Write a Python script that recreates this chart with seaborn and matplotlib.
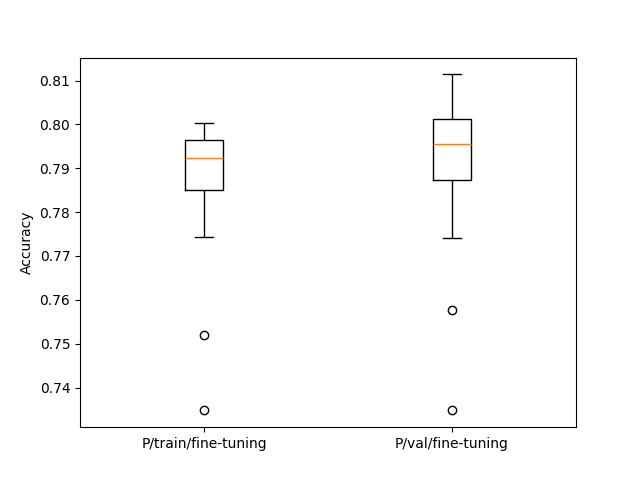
import pandas as pd
import matplotlib
matplotlib.use("Agg")
import matplotlib.pyplot as plt
import seaborn as sns

# accuracy per run
train_acc = [0.7348, 0.7521, 0.7744, 0.7851, 0.7880, 0.7905, 0.7924,
             0.7935, 0.7950, 0.7965, 0.7980, 0.7992, 0.8004]
val_acc = [0.7350, 0.7578, 0.7740, 0.7874, 0.7900, 0.7930, 0.7956,
           0.7970, 0.7990, 0.8013, 0.8040, 0.8080, 0.8114]
labels = ["P/train/fine-tuning", "P/val/fine-tuning"]

df = pd.DataFrame({
    "setting": [labels[0]] * len(train_acc) + [labels[1]] * len(val_acc),
    "Accuracy": train_acc + val_acc,
})

fig, ax = plt.subplots(figsize=(6.4, 4.8), dpi=100)
sns.boxplot(data=df, x="setting", y="Accuracy", order=labels, ax=ax,
            width=0.15, fill=False, color="black", linewidth=1,
            medianprops=dict(color="#ff7f0e", linewidth=1),
            flierprops=dict(marker="o", markerfacecolor="none",
                            markeredgecolor="black", markersize=6))
ax.set_xlabel("")
ax.set_ylabel("Accuracy")
ax.set_xlim(-0.5, 1.5)

fig.savefig("out.png", dpi=100)
